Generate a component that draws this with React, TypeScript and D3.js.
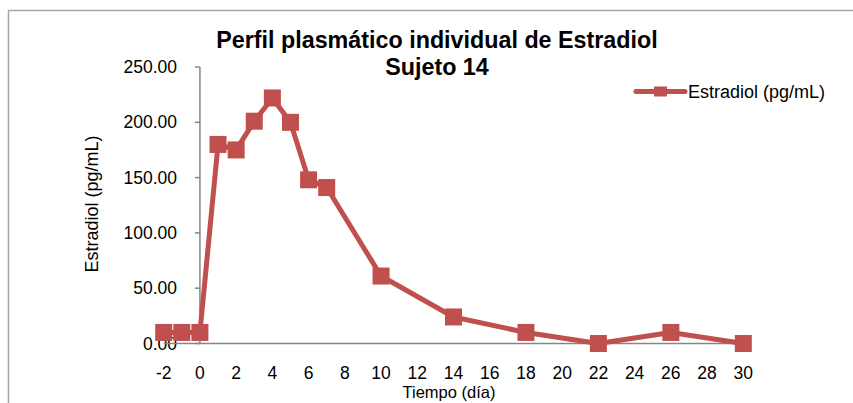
import React from "react";
import * as d3 from "d3";

const days = [-2, -1, 0, 1, 2, 3, 4, 5, 6, 7, 10, 14, 18, 22, 26, 30];
const estradiol = [10, 10, 10, 180, 175, 201, 222, 200, 148, 141, 61, 24, 10, 0, 10, 0];
const yTicks = [0, 50, 100, 150, 200, 250];
const xTicks = [-2, 0, 2, 4, 6, 8, 10, 12, 14, 16, 18, 20, 22, 24, 26, 28, 30];
const titleLines = ["Perfil plasmático individual de Estradiol", "Sujeto 14"];
const seriesName = "Estradiol (pg/mL)";
const xTitle = "Tiempo (día)";
const yTitle = "Estradiol (pg/mL)";

const W = 853;
const H = 403;
const RED = "#C0504D";
const AXIS = "#868686";
const FONT = "'Liberation Sans', Arial, sans-serif";

export default function App() {
  const x = d3.scaleLinear().domain([-2, 30]).range([163.7, 743.3]);
  const y = d3.scaleLinear().domain([0, 250]).range([343.5, 67]);
  const pts = days.map((d, i) => [d, estradiol[i]] as [number, number]);
  const line = d3
    .line<[number, number]>()
    .x((d) => x(d[0]))
    .y((d) => y(d[1]));
  const m = 17;

  return (
    <svg
      width={W}
      height={H}
      style={{ position: "absolute", left: 0, top: 0, background: "#fff" }}
      fontFamily={FONT}
    >
      <rect x={0} y={0} width={W} height={H} fill="#fff" />
      {/* outer frame */}
      <path d={`M8.5,${H + 5} L8.5,10.5 L${W + 5},10.5`} fill="none" stroke="#A6A6A6" strokeWidth={1.5} />

      {/* title */}
      <text x={437} y={48} textAnchor="middle" fontWeight="bold" fontSize={23.3} fill="#000">
        {titleLines[0]}
      </text>
      <text x={437} y={75} textAnchor="middle" fontWeight="bold" fontSize={23.3} fill="#000">
        {titleLines[1]}
      </text>

      {/* y axis */}
      <line x1={x(0)} x2={x(0)} y1={y(250)} y2={y(0)} stroke={AXIS} strokeWidth={1.5} />
      {yTicks.map((t) => (
        <g key={t}>
          <line x1={x(0) - 5} x2={x(0)} y1={y(t)} y2={y(t)} stroke={AXIS} strokeWidth={1.5} />
          <text
            x={177}
            y={y(t)}
            dy="0.35em"
            textAnchor="end"
            fontSize={17.5}
            fill="#000"
          >
            {d3.format(".2f")(t)}
          </text>
        </g>
      ))}

      {/* x axis */}
      <line x1={x(-2)} x2={x(30)} y1={y(0)} y2={y(0)} stroke={AXIS} strokeWidth={1.5} />
      {xTicks.map((t) => (
        <text key={t} x={x(t)} y={378.5} textAnchor="middle" fontSize={17.5} fill="#000">
          {t}
        </text>
      ))}
      <text x={449} y={397.5} textAnchor="middle" fontSize={16.5} fill="#000">
        {xTitle}
      </text>
      <text
        transform={`translate(98,204) rotate(-90)`}
        textAnchor="middle"
        fontSize={18}
        fill="#000"
      >
        {yTitle}
      </text>

      {/* series */}
      <path d={line(pts) || ""} fill="none" stroke={RED} strokeWidth={5} strokeLinejoin="round" />
      {pts.map((p, i) => (
        <rect
          key={i}
          x={x(p[0]) - m / 2}
          y={y(p[1]) - m / 2}
          width={m}
          height={m}
          fill={RED}
        />
      ))}

      {/* legend */}
      <line x1={636} x2={685} y1={91.5} y2={91.5} stroke={RED} strokeWidth={5} strokeLinecap="round" />
      <rect x={654} y={86.5} width={13} height={10} fill={RED} />
      <text x={688} y={91.5} dy="0.35em" fontSize={18} fill="#000">
        {seriesName}
      </text>
    </svg>
  );
}
